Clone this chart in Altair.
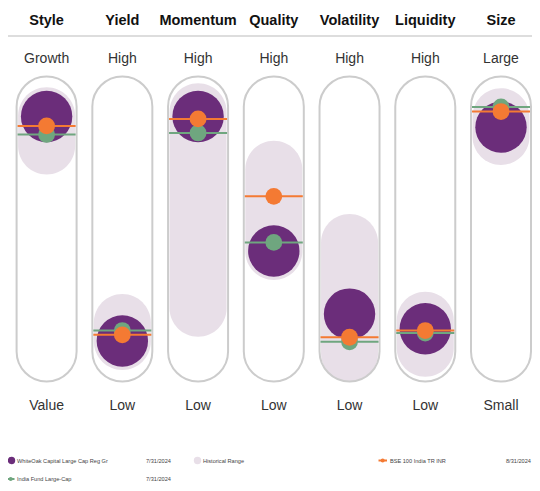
import math
import altair as alt
import pandas as pd

# ---- data -----------------------------------------------------------------
factors = ["Style", "Yield", "Momentum", "Quality", "Volatility", "Liquidity", "Size"]
high_labels = ["Growth", "High", "High", "High", "High", "High", "Large"]
low_labels = ["Value", "Low", "Low", "Low", "Low", "Low", "Small"]

fund = [86.9, 13.3, 86.9, 42.8, 22.1, 17.3, 83.4]        # WhiteOak Capital Large Cap Reg Gr
benchmark = [83.8, 15.3, 86.1, 60.7, 14.5, 16.7, 88.5]   # BSE 100 India TR INR
category = [81.0, 16.7, 81.5, 45.6, 13.0, 15.9, 90.0]    # India Fund Large-Cap
hist_low = [77.4, 13.3, 24.2, 42.8, 9.4, 11.1, 80.5]
hist_high = [87.0, 19.2, 88.3, 69.4, 45.4, 19.9, 86.6]

legend_fund = "WhiteOak Capital Large Cap Reg Gr"
legend_hist = "Historical Range"
legend_bench = "BSE 100 India TR INR"
legend_cat = "India Fund Large-Cap"
date_fund = "7/31/2024"
date_bench = "8/31/2024"
date_cat = "7/31/2024"

df = pd.DataFrame({
    "idx": list(range(len(factors))),
    "factor": factors, "high": high_labels, "low": low_labels,
    "fund": fund, "bench": benchmark, "cat": category,
    "hlo": hist_low, "hhi": hist_high,
    "top": [100] * 7, "bottom": [0] * 7,
})

# ---- styling --------------------------------------------------------------
PURPLE = "#6B2D7A"
ORANGE = "#F47A33"
GREEN = "#6FA67F"
LAVENDER = "#E8DFE8"
OUTLINE = "#CCCCCC"
FONT = "Liberation Sans, Arial, sans-serif"

W, H = 524, 475
FIRST, LAST = 38.6, 493.0
STEP = (LAST - FIRST) / 6
xs = alt.Scale(domain=[-FIRST / STEP, (W - FIRST) / STEP], range=[0, W],
               nice=False, zero=False, padding=0)
ys = alt.Scale(domain=[0, 100], range=[373.5, 68.5], nice=False, padding=0)
X = alt.X("idx:Q", scale=xs, axis=None)

base = alt.Chart(df)

capsule = base.mark_bar(width=60, cornerRadius=30, fill="white").encode(
    x=X, y=alt.Y("top:Q", scale=ys, axis=None), y2="bottom:Q")
hist = base.mark_bar(width=57, cornerRadius=28.5, color=LAVENDER, yOffset=-29, y2Offset=29).encode(
    x=X, y=alt.Y("hhi:Q", scale=ys), y2="hlo:Q")
outline = base.mark_bar(width=60, cornerRadius=30, fillOpacity=0, stroke=OUTLINE, strokeWidth=2).encode(
    x=X, y=alt.Y("top:Q", scale=ys), y2="bottom:Q")
fund_pt = base.mark_circle(size=math.pi * 29 ** 2, color=PURPLE, opacity=1).encode(
    x=X, y=alt.Y("fund:Q", scale=ys))
cat_line = base.mark_tick(size=58, thickness=2, color=GREEN, opacity=1, orient="horizontal").encode(
    x=X, y=alt.Y("cat:Q", scale=ys))
cat_pt = base.mark_circle(size=math.pi * 9.5 ** 2, color=GREEN, opacity=1).encode(
    x=X, y=alt.Y("cat:Q", scale=ys))
bench_line = base.mark_tick(size=58, thickness=2, color=ORANGE, opacity=1, orient="horizontal").encode(
    x=X, y=alt.Y("bench:Q", scale=ys))
bench_pt = base.mark_circle(size=math.pi * 9.5 ** 2, color=ORANGE, opacity=1).encode(
    x=X, y=alt.Y("bench:Q", scale=ys))

headers = base.mark_text(font=FONT, fontSize=14.5, fontWeight="bold", color="#111111",
                         baseline="middle").encode(x=X, y=alt.value(13), text="factor:N")
top_txt = base.mark_text(font=FONT, fontSize=14, color="#333333", baseline="middle").encode(
    x=X, y=alt.value(51), text="high:N")
bot_txt = base.mark_text(font=FONT, fontSize=14, color="#333333", baseline="middle").encode(
    x=X, y=alt.value(398), text="low:N")

one = alt.Chart(pd.DataFrame({"k": [0]}))
sep = one.mark_rule(color="#DDDDDD", strokeWidth=2).encode(
    x=alt.value(0), x2=alt.value(W), y=alt.value(28))


def ltext(txt, x, y):
    return one.mark_text(font=FONT, fontSize=5.6, color="#444444", align="left",
                         baseline="middle").encode(x=alt.value(x), y=alt.value(y), text=alt.value(txt))


def ldot(color, x, y, size):
    return one.mark_circle(color=color, size=size, opacity=1).encode(x=alt.value(x), y=alt.value(y))


def lline(color, x1, x2, y):
    return one.mark_rule(color=color, strokeWidth=2).encode(
        x=alt.value(x1), x2=alt.value(x2), y=alt.value(y))


R1, R2 = 452.5, 471
legend = [
    ldot(PURPLE, 3.5, R1, 55), ltext(legend_fund, 9, R1), ltext(date_fund, 138, R1),
    ldot(LAVENDER, 189.5, R1, 55), ltext(legend_hist, 195, R1),
    lline(ORANGE, 370.5, 379, R1), ldot(ORANGE, 374.7, R1, 16), ltext(legend_bench, 382, R1),
    ltext(date_bench, 498, R1),
    lline(GREEN, -1, 6.5, R2), ldot(GREEN, 2.7, R2, 16), ltext(legend_cat, 9, R2),
    ltext(date_cat, 138, R2),
]

chart = alt.layer(
    capsule, hist, outline, fund_pt, cat_line, cat_pt, bench_line, bench_pt,
    headers, top_txt, bot_txt, sep, *legend
).properties(
    width=W, height=H, padding=0, autosize=alt.AutoSizeParams(type="none")
).configure_view(stroke=None)

chart.save("out.html", embed_options={"renderer": "svg", "actions": False})
